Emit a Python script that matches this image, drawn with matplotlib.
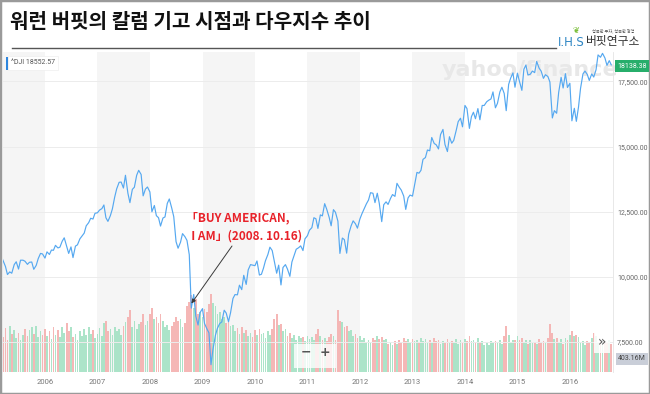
import numpy as np
import pandas as pd
import matplotlib
matplotlib.use("Agg")
import matplotlib.pyplot as plt
from matplotlib.patches import Rectangle

plt.rcParams['font.family'] = ['Noto Sans CJK KR', 'DejaVu Sans']

# ^DJI close at roughly the 1st and 15th of each month
dji_2005 = [10830, 10630, 10400, 10090, 10190, 10140, 10470, 10580, 10300, 10640,
            10640, 10600, 10480, 10560, 10570, 10290, 10440, 10700, 10900, 10880]
dji_2006 = [10720, 10960, 10860, 11030, 11020, 11210, 11110, 11140, 11370, 11500, 11170, 10900,
            11150, 10740, 11180, 11230, 11460, 11560, 11680, 11960, 12080, 12250, 12220, 12440]
dji_2007 = [12460, 12560, 12620, 12760, 12270, 12130, 12350, 12610, 13060, 13380, 13630, 13640,
            13410, 13900, 13210, 12850, 13360, 13440, 13900, 14090, 13930, 13110, 13370, 13450]
dji_2008 = [13260, 12500, 12740, 12350, 12270, 11950, 12260, 12300, 12820, 12990, 12640, 12310,
            11350, 11100, 11330, 11660, 11540, 11400, 10850, 8800, 9325, 8500, 8150, 8630]
dji_2009 = [8780, 8210, 8000, 7850, 6630, 7220, 7760, 8030, 8210, 8270, 8720, 8610,
            8280, 8620, 9170, 9320, 9310, 9680, 9510, 10060, 9710, 10270, 10470, 10450]
dji_2010 = [10430, 10610, 10070, 10100, 10330, 10620, 10860, 11140, 11010, 10620, 10140, 10450,
            9690, 10360, 10470, 10300, 10020, 10570, 10830, 11060, 11120, 11190, 11010, 11460]
dji_2011 = [11580, 11790, 11890, 12270, 12230, 11860, 12380, 12340, 12810, 12600, 12290, 11960,
            12580, 12480, 12140, 10900, 11490, 11430, 10910, 11640, 11960, 12150, 12040, 11870]
dji_2012 = [12220, 12420, 12630, 12800, 12950, 13230, 13210, 12850, 13210, 12820, 12120, 12770,
            12880, 12780, 13010, 13160, 13090, 13590, 13440, 13330, 13100, 12590, 13030, 13140]
dji_2013 = [13100, 13510, 14010, 13980, 14090, 14510, 14580, 14870, 14840, 15350, 15120, 15070,
            14910, 15460, 15660, 15080, 14810, 15380, 15130, 15240, 15620, 15960, 16090, 15760]
dji_2014 = [16580, 16460, 15700, 16150, 16320, 16070, 16460, 16030, 16580, 16580, 16720, 16780,
            16830, 17100, 16490, 16660, 17100, 17280, 17040, 16380, 17390, 17630, 17830, 17280]
dji_2015 = [17820, 17510, 17160, 17970, 18130, 17750, 17780, 17900, 17840, 18270, 18010, 17900,
            17620, 17760, 17690, 17480, 16100, 16380, 16280, 17080, 17660, 17250, 17800, 17270]
dji_2016 = [17430, 15990, 16470, 15970, 16520, 17230, 17790, 17900, 17770, 17540,
            17790, 17670, 17950, 18520, 18430, 18580, 18400, 18120, 18300, 18138]

# volume bars, same dates (height units only, no scale shown)
vol_2005 = [380, 330, 410, 300, 430, 360, 390, 320, 370, 300,
            350, 400, 340, 390, 420, 360, 430, 330, 380, 350]
vol_2006 = [400, 340, 380, 310, 420, 350, 390, 330, 420, 370, 460, 380,
            420, 330, 360, 300, 380, 340, 400, 350, 420, 360, 390, 320]
vol_2007 = [360, 410, 340, 460, 480, 380, 400, 350, 420, 380, 400, 350,
            430, 470, 520, 580, 420, 480, 400, 450, 470, 540, 440, 480]
vol_2008 = [540, 600, 500, 520, 460, 540, 480, 420, 440, 390, 430, 470,
            520, 480, 500, 420, 460, 620, 660, 720, 600, 680, 540, 560]
vol_2009 = [520, 590, 560, 640, 730, 650, 620, 540, 560, 500, 520, 460,
            490, 430, 440, 380, 410, 360, 420, 370, 390, 340, 370, 330]
vol_2010 = [390, 350, 400, 360, 370, 320, 380, 350, 400, 500, 540, 440,
            450, 380, 400, 340, 370, 320, 350, 300, 340, 320, 330, 290]
vol_2011 = [340, 310, 330, 300, 360, 400, 340, 300, 320, 290, 330, 360,
            340, 300, 580, 480, 470, 420, 430, 380, 390, 340, 360, 320]
vol_2012 = [340, 300, 320, 280, 300, 280, 320, 300, 340, 310, 330, 300,
            310, 260, 280, 250, 290, 260, 300, 280, 320, 290, 310, 270]
vol_2013 = [310, 290, 300, 270, 320, 290, 310, 280, 300, 270, 320, 290,
            300, 260, 290, 270, 310, 280, 290, 270, 310, 260, 300, 270]
vol_2014 = [310, 290, 340, 290, 300, 280, 320, 270, 290, 250, 270, 250,
            290, 270, 290, 280, 300, 260, 340, 430, 350, 280, 300, 300]
vol_2015 = [340, 300, 320, 280, 300, 260, 300, 270, 280, 260, 310, 270,
            290, 280, 320, 450, 370, 310, 320, 270, 310, 260, 320, 300]
vol_2016 = [350, 380, 340, 350, 330, 270, 290, 250, 290, 280,
            320, 370, 340, 270, 290, 250, 290, 280, 300, 260]

year_labels = list(range(2006, 2017))
shaded_years = [2005, 2007, 2009, 2011, 2013, 2015]
price_ticks = [7500, 10000, 12500, 15000, 17500]

title = "워런 버핏의 칼럼 기고 시점과 다우지수 추이"
note = "「BUY AMERICAN,\n  I AM」(2008. 10.16)"

dates = pd.date_range("2005-03-01", "2016-10-15", freq="SMS")
close = np.array(dji_2005 + dji_2006 + dji_2007 + dji_2008 + dji_2009 + dji_2010
                 + dji_2011 + dji_2012 + dji_2013 + dji_2014 + dji_2015 + dji_2016, dtype=float)
volume = np.array(vol_2005 + vol_2006 + vol_2007 + vol_2008 + vol_2009 + vol_2010
                  + vol_2011 + vol_2012 + vol_2013 + vol_2014 + vol_2015 + vol_2016, dtype=float)
assert len(dates) == len(close) == len(volume), (len(dates), len(close), len(volume))

up = np.r_[True, np.diff(close) >= 0]
bar_colors = np.where(up, "#a3e2c4", "#f4b0ae")

W, H = 650, 394
fig = plt.figure(figsize=(W / 100, H / 100), dpi=100)
fig.patch.set_facecolor("white")


def px(x, y):
    # figure pixels (from top left) -> figure fraction
    return x / W, 1 - y / H


rect = [3 / W, 22 / H, 610 / W, 320 / H]
xlim = (pd.Timestamp("2005-03-15"), pd.Timestamp("2016-10-27"))

# lower layer: year bands + volume bars
vax = fig.add_axes(rect)
vax.set_xlim(xlim)
vax.set_ylim(0, 3000)
vax.axis("off")
for yr in shaded_years:
    vax.axvspan(pd.Timestamp(f"{yr}-01-01"), pd.Timestamp(f"{yr + 1}-01-01"),
                color="#f5f5f5", lw=0, zorder=0)
vax.bar(dates, volume, width=12, color=bar_colors, lw=0, alpha=0.9, zorder=2)

# upper layer: price line
ax = fig.add_axes(rect)
ax.patch.set_visible(False)
ax.set_xlim(xlim)
ax.set_ylim(6348, 18632)
for p in price_ticks:
    ax.axhline(p, color="#ececec", lw=0.7, zorder=1)
ax.plot(dates, close, color="#55a8f0", lw=0.85, zorder=3)

ax.yaxis.tick_right()
ax.set_yticks(price_ticks)
ax.set_yticklabels([f"{p:,.2f}" for p in price_ticks], family="Roboto")
ax.set_xticks([pd.Timestamp(f"{y}-01-01") for y in year_labels])
ax.set_xticklabels([str(y) for y in year_labels], family="Roboto")
ax.tick_params(axis="y", length=0, pad=3, labelsize=5, labelcolor="#666666")
ax.tick_params(axis="x", length=0, pad=5, labelsize=5.5, labelcolor="#777777")
for s in ["top", "left", "bottom"]:
    ax.spines[s].set_visible(False)
ax.spines["right"].set_color("#e4e4e4")
ax.spines["right"].set_linewidth(0.6)

# watermark
ax.text(*px(530, 70), "yahoo/finance", transform=fig.transFigure, fontsize=16,
        fontweight="bold", color="#e8e8e8", ha="center", va="center",
        family="DejaVu Sans", zorder=2)

# annotation for the column date
ax.annotate("", xy=(pd.Timestamp("2008-10-16"), 8979), xycoords="data",
            xytext=px(232, 246), textcoords="figure fraction",
            arrowprops=dict(arrowstyle="-|>", color="#3a3a3a", lw=0.7,
                            mutation_scale=6, shrinkA=0, shrinkB=0))
fig.text(*px(186, 227), note, color="#e8222a", fontsize=8.5, fontweight="bold",
         va="center", ha="left", linespacing=1.5)

# hover label top-left
fig.text(*px(11, 63), "^DJI 18552.57", fontsize=5, color="#555555", va="center",
         family="Roboto",
         bbox=dict(boxstyle="square,pad=0.5", fc="white", ec="#eeeeee", lw=0.5))
fig.add_artist(Rectangle(px(6, 70), 1.5 / W, 13 / H, transform=fig.transFigure,
                         color="#2e86de", lw=0))

# last value + volume labels on the right
fig.text(*px(632, 66), "18138.38", fontsize=5, color="white", ha="center", va="center",
         family="Roboto",
         bbox=dict(boxstyle="square,pad=0.35", fc="#27ae6b", ec="none"))
fig.text(*px(632, 359), "403.16M", fontsize=5, color="#444444", ha="center", va="center",
         family="Roboto",
         bbox=dict(boxstyle="square,pad=0.35", fc="#c9ced8", ec="none"))

# zoom controls
fig.add_artist(Rectangle(px(294, 368), 42 / W, 24 / H, transform=fig.transFigure,
                         fc="white", ec="none", alpha=0.8))
fig.text(*px(306, 352), "−", fontsize=9, fontweight="bold", color="#555555",
         ha="center", va="center", family="DejaVu Sans")
fig.text(*px(325, 352), "+", fontsize=9, fontweight="bold", color="#555555",
         ha="center", va="center", family="DejaVu Sans")
fig.add_artist(Rectangle(px(594, 353), 16 / W, 22 / H, transform=fig.transFigure,
                         fc="white", ec="none", alpha=0.85))
fig.text(*px(602, 342), "»", fontsize=10, color="#555555", ha="center", va="center",
         family="DejaVu Sans")

# title block
fig.text(*px(10, 22), title, fontsize=14.5, fontweight="bold", color="#111111", va="center")
fig.add_artist(plt.Line2D([12 / W, 556 / W], [1 - 48 / H, 1 - 48 / H],
                          transform=fig.transFigure, color="#555555", lw=1))
fig.text(*px(558, 42), "I.H.S", fontsize=8.5, color="#2f86c4", va="center",
         family="DejaVu Sans")
fig.text(*px(586, 42), "버핏연구소", fontsize=8.5, color="#333333", va="center")
fig.text(*px(592, 31), "행복한 투자, 행복한 경영", fontsize=3, color="#555555", va="center")
fig.text(*px(576, 30), "❦", fontsize=6, color="#7bbf3a", ha="center", va="center",
         family="DejaVu Sans")

# outer frame
fig.add_artist(Rectangle((0, 0), 1, 1, transform=fig.transFigure, fill=False,
                         ec="#9a9a9a", lw=2.5))

fig.savefig("out.png", dpi=100)
